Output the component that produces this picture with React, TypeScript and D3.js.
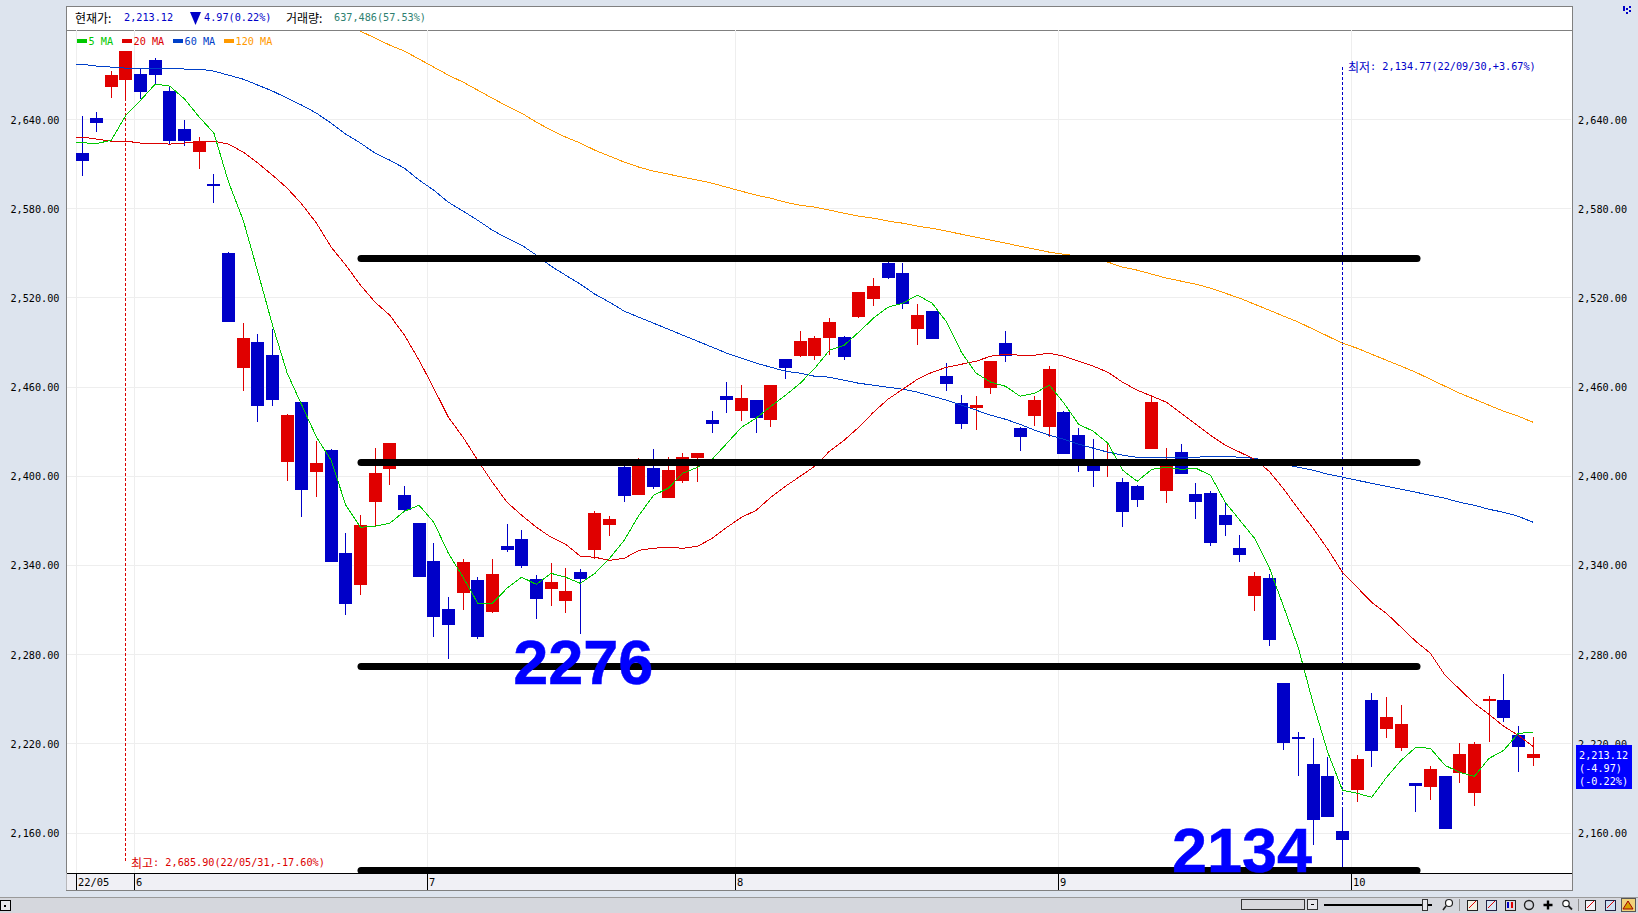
import React from "react";
import * as d3 from "d3";

const opens = [
  2617.5, 2641.0, 2661.9, 2666.6, 2670.6, 2680.0, 2659.2, 2633.6, 2618.1, 2596.6,
  2550.2, 2472.8, 2490.3, 2481.5, 2409.5, 2449.9, 2402.8, 2417.6, 2348.2, 2326.7,
  2382.6, 2404.8, 2387.3, 2368.4, 2342.9, 2310.6, 2321.3, 2330.1, 2308.5, 2353.0,
  2357.7, 2330.7, 2324.0, 2315.9, 2335.5, 2350.3, 2367.1, 2406.1, 2387.3, 2405.4,
  2385.3, 2396.7, 2412.2, 2437.8, 2453.9, 2443.8, 2451.2, 2437.8, 2478.8, 2480.8,
  2480.8, 2492.9, 2493.6, 2507.1, 2519.2, 2543.4, 2536.7, 2499.0, 2511.1, 2467.4,
  2449.2, 2445.8, 2459.3, 2489.6, 2432.4, 2440.5, 2433.0, 2443.1, 2427.7, 2406.8,
  2406.8, 2396.0, 2393.3, 2418.2, 2390.0, 2416.2, 2388.0, 2388.6, 2373.8, 2351.6,
  2319.3, 2331.4, 2260.7, 2224.4, 2206.2, 2198.2, 2161.1, 2188.7, 2249.3, 2229.8,
  2217.0, 2193.4, 2190.8, 2198.2, 2200.2, 2186.7, 2248.6, 2249.3, 2225.8, 2210.3,
];
const highs = [
  2642.4, 2645.1, 2672.6, 2685.9, 2674.7, 2681.4, 2662.5, 2639.7, 2628.2, 2603.3,
  2550.8, 2503.0, 2495.6, 2499.0, 2441.8, 2449.9, 2423.6, 2418.2, 2361.7, 2373.8,
  2418.9, 2422.3, 2393.3, 2368.4, 2355.0, 2318.6, 2344.2, 2332.1, 2344.2, 2367.8,
  2363.7, 2333.4, 2341.5, 2338.1, 2337.5, 2376.5, 2373.1, 2406.8, 2412.2, 2418.2,
  2412.9, 2415.5, 2415.5, 2443.8, 2463.3, 2461.3, 2451.2, 2461.3, 2478.8, 2497.7,
  2494.3, 2506.4, 2494.3, 2523.9, 2533.3, 2544.1, 2543.4, 2515.8, 2511.1, 2476.1,
  2454.6, 2453.9, 2477.5, 2497.7, 2433.0, 2453.9, 2474.1, 2443.8, 2432.4, 2425.0,
  2423.0, 2398.7, 2394.0, 2453.9, 2418.9, 2421.6, 2395.4, 2390.0, 2382.6, 2360.4,
  2335.5, 2334.1, 2260.7, 2227.8, 2223.7, 2210.9, 2177.3, 2212.3, 2254.0, 2251.3,
  2245.9, 2193.4, 2204.9, 2198.2, 2220.4, 2221.0, 2252.0, 2266.8, 2231.8, 2224.4,
];
const lows = [
  2602.2, 2631.6, 2654.5, 2654.5, 2653.8, 2663.9, 2623.5, 2622.2, 2606.7, 2583.8,
  2503.7, 2457.3, 2436.4, 2447.2, 2396.7, 2372.5, 2385.9, 2342.2, 2306.5, 2320.0,
  2366.4, 2394.0, 2375.8, 2332.1, 2291.7, 2276.9, 2309.9, 2290.4, 2307.9, 2348.9,
  2338.1, 2303.8, 2312.6, 2307.9, 2293.7, 2344.2, 2359.7, 2382.6, 2387.3, 2391.3,
  2385.3, 2395.4, 2396.0, 2429.0, 2442.5, 2437.1, 2429.0, 2433.0, 2465.4, 2480.2,
  2478.1, 2481.5, 2478.1, 2506.4, 2514.5, 2532.7, 2512.5, 2488.2, 2492.3, 2457.3,
  2431.7, 2431.0, 2455.3, 2476.8, 2416.9, 2433.7, 2426.3, 2414.9, 2402.8, 2392.7,
  2399.4, 2365.7, 2379.2, 2418.2, 2381.9, 2401.4, 2371.1, 2353.0, 2359.7, 2342.2,
  2309.2, 2285.7, 2215.7, 2198.2, 2151.7, 2170.6, 2134.77, 2180.7, 2204.2, 2223.7,
  2215.0, 2173.9, 2182.0, 2162.5, 2193.4, 2178.0, 2221.0, 2234.5, 2200.8, 2204.9,
];
const closes = [
  2612.3, 2637.6, 2670.0, 2685.9, 2658.5, 2670.0, 2625.5, 2625.5, 2625.3, 2595.5,
  2503.7, 2492.9, 2447.2, 2451.2, 2441.1, 2390.6, 2408.8, 2342.2, 2313.9, 2367.1,
  2402.1, 2422.3, 2377.2, 2332.1, 2305.2, 2299.8, 2342.2, 2291.7, 2334.1, 2350.3,
  2339.5, 2317.3, 2328.7, 2322.7, 2330.7, 2375.2, 2371.1, 2386.6, 2409.5, 2392.7,
  2404.1, 2412.9, 2415.5, 2435.1, 2451.2, 2452.6, 2439.1, 2461.3, 2472.8, 2490.9,
  2492.9, 2503.7, 2480.2, 2523.9, 2527.9, 2533.3, 2515.8, 2508.4, 2492.3, 2462.0,
  2435.1, 2447.9, 2477.5, 2480.8, 2426.3, 2451.2, 2472.1, 2414.9, 2407.5, 2403.4,
  2410.8, 2375.8, 2383.9, 2449.9, 2406.8, 2401.4, 2382.6, 2355.0, 2367.1, 2346.9,
  2332.8, 2289.7, 2220.4, 2223.1, 2168.5, 2170.6, 2155.1, 2209.6, 2215.0, 2237.9,
  2233.2, 2191.4, 2202.9, 2162.5, 2213.0, 2219.7, 2250.0, 2237.2, 2217.7, 2213.12,
];

const ma5 = [
  2624.5, 2623.8, 2626.2, 2643.0, 2653.1, 2663.9, 2662.5, 2653.8, 2641.7, 2630.9,
  2597.9, 2572.3, 2537.3, 2501.7, 2469.4, 2447.8, 2426.3, 2410.8, 2380.5, 2365.7,
  2366.4, 2368.4, 2376.5, 2380.5, 2369.1, 2348.2, 2332.1, 2314.6, 2314.6, 2324.7,
  2332.1, 2327.3, 2334.7, 2332.1, 2328.0, 2334.7, 2344.8, 2357.0, 2373.8, 2387.2,
  2392.0, 2402.1, 2406.1, 2411.5, 2422.2, 2433.0, 2439.1, 2447.1, 2454.5, 2462.6,
  2472.7, 2484.8, 2488.2, 2497.0, 2506.4, 2513.8, 2516.5, 2521.9, 2516.5, 2503.7,
  2483.5, 2469.4, 2463.3, 2460.6, 2453.9, 2455.9, 2461.3, 2449.2, 2435.0, 2430.3,
  2422.2, 2404.1, 2396.7, 2404.7, 2406.1, 2404.7, 2405.4, 2400.7, 2382.5, 2370.4,
  2358.3, 2338.8, 2311.9, 2284.3, 2247.2, 2214.3, 2188.7, 2186.7, 2184.0, 2197.4,
  2208.9, 2217.6, 2217.0, 2205.5, 2200.8, 2198.1, 2210.2, 2215.6, 2227.1, 2227.7,
];
const ma20 = [
  2628.2, 2626.9, 2625.5, 2625.5, 2624.2, 2624.2, 2623.5, 2624.2, 2625.5, 2625.5,
  2623.5, 2618.1, 2610.7, 2602.6, 2593.9, 2583.1, 2570.3, 2554.2, 2542.0, 2528.6,
  2517.1, 2508.4, 2494.9, 2478.1, 2459.3, 2439.7, 2426.3, 2410.8, 2396.0, 2382.5,
  2373.8, 2365.7, 2359.0, 2354.3, 2346.2, 2345.5, 2343.5, 2344.8, 2350.2, 2351.6,
  2352.2, 2351.6, 2352.9, 2358.3, 2365.7, 2372.4, 2377.1, 2385.9, 2393.3, 2400.0,
  2406.8, 2416.9, 2424.3, 2433.0, 2443.1, 2451.9, 2458.6, 2465.3, 2470.0, 2473.4,
  2475.4, 2477.4, 2480.8, 2482.1, 2481.5, 2481.5, 2482.8, 2480.8, 2477.4, 2474.1,
  2470.0, 2463.3, 2457.9, 2453.9, 2449.8, 2442.4, 2435.0, 2427.6, 2420.9, 2416.2,
  2411.5, 2403.4, 2391.3, 2377.8, 2365.0, 2350.9, 2335.4, 2325.3, 2315.2, 2307.8,
  2298.4, 2289.0, 2280.9, 2266.1, 2256.7, 2247.2, 2239.8, 2231.8, 2225.7, 2218.3,
];
const ma60 = [
  2677.3, 2676.0, 2675.3, 2674.6, 2674.6, 2674.6, 2674.6, 2674.0, 2674.0, 2672.6,
  2669.9, 2667.2, 2663.2, 2659.2, 2654.4, 2649.7, 2644.3, 2637.6, 2630.2, 2624.2,
  2617.4, 2612.7, 2607.3, 2599.3, 2592.5, 2584.4, 2578.4, 2572.3, 2565.6, 2560.2,
  2555.5, 2548.8, 2541.4, 2535.3, 2529.3, 2522.5, 2517.1, 2511.1, 2507.0, 2503.0,
  2499.0, 2494.9, 2490.9, 2486.9, 2482.8, 2479.5, 2476.1, 2473.4, 2470.7, 2469.4,
  2467.3, 2466.7, 2464.6, 2462.6, 2461.3, 2459.9, 2458.6, 2456.6, 2453.9, 2451.2,
  2447.8, 2444.5, 2441.1, 2438.4, 2435.0, 2431.0, 2427.6, 2424.9, 2421.6, 2418.9,
  2416.2, 2414.2, 2412.8, 2412.8, 2412.8, 2412.8, 2412.8, 2413.5, 2413.5, 2412.8,
  2412.1, 2410.1, 2408.1, 2406.1, 2404.1, 2401.4, 2399.4, 2397.3, 2395.3, 2393.3,
  2391.3, 2389.3, 2387.2, 2385.2, 2382.5, 2380.5, 2377.8, 2375.8, 2373.1, 2369.1,
];
// The 120-day line enters the plot at candle 19
const ma120Start = 19;
const ma120 = [
  2699.5, 2694.8, 2690.1, 2686.1, 2680.7, 2675.3, 2669.9, 2665.2, 2659.8, 2654.4,
  2649.1, 2644.3, 2638.3, 2632.9, 2628.2, 2624.2, 2619.4, 2615.4, 2611.4, 2608.0,
  2605.3, 2603.3, 2601.3, 2599.3, 2597.2, 2594.5, 2591.8, 2589.2, 2587.1, 2584.4,
  2582.4, 2581.1, 2579.1, 2577.0, 2575.0, 2573.7, 2571.7, 2570.3, 2568.3, 2566.9,
  2564.9, 2562.9, 2560.9, 2558.9, 2556.9, 2554.8, 2552.8, 2550.8, 2549.4, 2548.1,
  2546.1, 2544.1, 2540.7, 2538.7, 2536.0, 2533.3, 2531.3, 2529.3, 2526.6, 2523.2,
  2519.8, 2515.8, 2511.8, 2507.7, 2503.7, 2499.0, 2494.3, 2489.5, 2486.2, 2482.1,
  2478.1, 2474.1, 2470.0, 2465.3, 2460.6, 2455.9, 2451.9, 2447.8, 2443.8, 2440.4, 2436.4,
];

const yTicks = [2640, 2580, 2520, 2460, 2400, 2340, 2280, 2220, 2160];
const monthLabels = ["22/05", "6", "7", "8", "9", "10"];
const monthStartIdx = [-0.36, 3.6, 23.6, 44.6, 66.64, 86.63];
const levelLines = [2546.6, 2409.3, 2272.0, 2134.8];
const levelLabels = [
  { text: "2276", idx: 29.42, value: 2260.1 },
  { text: "2134", idx: 74.37, value: 2133.6 },
];
const maLegend = ["5 MA", "20 MA", "60 MA", "120 MA"];
const badgeLines = ["2,213.12", "(-4.97)", "(-0.22%)"];

const RED = "#e00000";
const BLUE = "#0000c8";
const GREEN = "#00c800";
const MA_RED = "#dc0000";
const MA_BLUE = "#0040c8";
const ORANGE = "#ff9900";
const PANEL = "#dde4ee";
const MONO = "'DejaVu Sans Mono', monospace";
const KR = "'Noto Sans CJK KR', sans-serif";

const L = 66.5;
const R = 1572.5;
const TOP = 30;
const AX = 873;
const BOT = 890;
const LEAD_IDX = -0.42;

const x = d3.scaleLinear().domain([0, 99]).range([82, 1533]);
const y = d3.scaleLinear().domain([2160, 2640]).range([833, 119.6]);
const snap = (v: number) => Math.floor(v) + 0.5;

// The three full-length averages start flat at the left edge of the first candle
const lineGen = d3
  .line<number>()
  .x((_, i) => (i === 0 ? x(LEAD_IDX) : x(i - 1)))
  .y((d) => y(d));
const withLead = (s: number[]) => [s[0], ...s];
const lineGen120 = d3
  .line<number>()
  .x((_, i) => x(i + ma120Start))
  .y((d) => y(d));

const MonoText = ({ x: tx, y: ty, fill = "#000", size = 10.2, anchor = "start", children }: any) => (
  <text x={tx} y={ty} fill={fill} fontSize={size} fontFamily={MONO} textAnchor={anchor} dominantBaseline="central">
    {children}
  </text>
);

const legendColors = [GREEN, MA_RED, MA_BLUE, ORANGE];
const legendX = [77, 122, 173, 224];

const ToolIcon = ({ cx, stroke, fill }: { cx: number; stroke: string; fill: string }) => (
  <g>
    <rect x={cx - 5} y={900} width={10} height={10} fill={fill} stroke={stroke} shapeRendering="crispEdges" />
    <line x1={cx - 3} y1={908} x2={cx + 4} y2={901} stroke={RED} />
  </g>
);

export default function App() {
  return (
    <svg
      width={1638}
      height={913}
      viewBox="0 0 1638 913"
      style={{ position: "absolute", left: 0, top: 0, display: "block" }}
    >
      <defs>
        <clipPath id="plot">
          <rect x={L} y={TOP} width={R - L} height={AX - TOP} />
        </clipPath>
      </defs>
      <rect x={0} y={0} width={1638} height={913} fill={PANEL} />
      <rect x={L} y={6.5} width={R - L} height={BOT - 6.5} fill="#fff" stroke="#808080" strokeWidth={1} shapeRendering="crispEdges" />
      <line x1={L} x2={R} y1={30.5} y2={30.5} stroke="#808080" shapeRendering="crispEdges" />

      {/* grid */}
      {yTicks.map((t) => (
        <line key={t} x1={L} x2={R - 2} y1={snap(y(t))} y2={snap(y(t))} stroke="#eeeeee" shapeRendering="crispEdges" />
      ))}
      {monthStartIdx.map((m) => (
        <line key={m} x1={snap(x(m))} x2={snap(x(m))} y1={TOP} y2={AX} stroke="#eeeeee" shapeRendering="crispEdges" />
      ))}

      {/* tick labels */}
      {yTicks.map((t) => (
        <React.Fragment key={t}>
          <MonoText x={59.5} y={y(t) + 0.5} anchor="end">{d3.format(",.2f")(t)}</MonoText>
          <MonoText x={1578} y={y(t) + 0.5}>{d3.format(",.2f")(t)}</MonoText>
        </React.Fragment>
      ))}

      <g clipPath="url(#plot)">
        {/* peak and trough markers */}
        <line x1={snap(x(3))} x2={snap(x(3))} y1={y(2654.5)} y2={863} stroke={MA_RED} strokeDasharray="3 2" shapeRendering="crispEdges" />
        <line x1={snap(x(86))} x2={snap(x(86))} y1={67} y2={y(2177.3)} stroke={BLUE} strokeDasharray="3 2" shapeRendering="crispEdges" />

        {/* candles */}
        {opens.map((o, i) => {
          const c = closes[i];
          const up = c > o;
          const col = up ? RED : BLUE;
          const cx = snap(x(i));
          const top = Math.round(y(Math.max(o, c)));
          const bottom = Math.round(y(Math.min(o, c)));
          return (
            <g key={i} shapeRendering="crispEdges">
              <line x1={cx} x2={cx} y1={y(highs[i])} y2={y(lows[i])} stroke={col} />
              <rect x={cx - 6.5} y={top} width={13} height={Math.max(bottom - top, 1)} fill={col} />
            </g>
          );
        })}

        {/* moving averages */}
        <path d={lineGen120(ma120) || ""} fill="none" stroke={ORANGE} strokeWidth={1} shapeRendering="crispEdges" />
        <path d={lineGen(withLead(ma60)) || ""} fill="none" stroke={MA_BLUE} strokeWidth={1} shapeRendering="crispEdges" />
        <path d={lineGen(withLead(ma20)) || ""} fill="none" stroke={MA_RED} strokeWidth={1} shapeRendering="crispEdges" />
        <path d={lineGen(withLead(ma5)) || ""} fill="none" stroke={GREEN} strokeWidth={1} shapeRendering="crispEdges" />

        {/* hand-drawn levels */}
        {levelLines.map((v) => (
          <line key={v} x1={361} x2={1417} y1={y(v)} y2={y(v)} stroke="#000" strokeWidth={7} strokeLinecap="round" />
        ))}
        {levelLabels.map((l) => (
          <text
            key={l.text}
            x={x(l.idx)}
            y={y(l.value)}
            fill="#0000ff"
            fontFamily="'Liberation Sans', Arial, sans-serif"
            fontWeight={700}
            fontSize={63}
            stroke="#0000ff"
            strokeWidth={0.5}
          >
            {l.text}
          </text>
        ))}

        {/* legend */}
        {maLegend.map((t, i) => (
          <g key={t}>
            <rect x={legendX[i]} y={39} width={10} height={4} fill={legendColors[i]} />
            <MonoText x={legendX[i] + 11.5} y={41.5} fill={legendColors[i]}>{t}</MonoText>
          </g>
        ))}

        {/* annotations */}
        <text x={131} y={862} fill={MA_RED} dominantBaseline="central" fontSize={10.2} fontFamily={MONO}>
          <tspan fontFamily={KR} fontSize={12}>최고</tspan>: 2,685.90(22/05/31,-17.60%)
        </text>
        <text x={1348} y={66} fill={BLUE} dominantBaseline="central" fontSize={10.2} fontFamily={MONO}>
          <tspan fontFamily={KR} fontSize={12}>최저</tspan>: 2,134.77(22/09/30,+3.67%)
        </text>
      </g>

      {/* header */}
      <text x={75} y={17.5} dominantBaseline="central" fontSize={12} fontFamily={KR} fill="#000">현재가:</text>
      <MonoText x={124} y={17.5} fill={BLUE}>2,213.12</MonoText>
      <path d={d3.line()([[190, 12], [201, 12], [195.5, 25]]) + "Z"} fill={BLUE} />
      <MonoText x={204} y={17.5} fill={BLUE}>4.97(0.22%)</MonoText>
      <text x={286} y={17.5} dominantBaseline="central" fontSize={12} fontFamily={KR} fill="#000">거래량:</text>
      <MonoText x={334} y={17.5} fill="#2f7f70">637,486(57.53%)</MonoText>

      {/* date axis */}
      <rect x={L} y={AX} width={R - L} height={BOT - AX} fill="#f0f0f5" />
      <line x1={L} x2={R} y1={AX + 0.5} y2={AX + 0.5} stroke="#000" shapeRendering="crispEdges" />
      <line x1={L} x2={R} y1={BOT + 0.5} y2={BOT + 0.5} stroke="#808080" shapeRendering="crispEdges" />
      <line x1={R} x2={R} y1={AX} y2={BOT} stroke="#808080" shapeRendering="crispEdges" />
      {monthLabels.map((t, i) => (
        <g key={t}>
          <line x1={snap(x(monthStartIdx[i]))} x2={snap(x(monthStartIdx[i]))} y1={AX} y2={BOT} stroke="#000" shapeRendering="crispEdges" />
          <MonoText x={snap(x(monthStartIdx[i])) + 1.5} y={882} size={10.4}>{t}</MonoText>
        </g>
      ))}

      {/* current price badge */}
      <rect x={1576} y={745} width={56} height={44} fill="#0000ff" />
      {badgeLines.map((t, i) => (
        <MonoText key={t} x={1579} y={755.5 + i * 13} fill="#fff">{t}</MonoText>
      ))}

      {/* status bar */}
      <rect x={0} y={897} width={1638} height={16} fill="#d5d7dd" />
      <line x1={0} x2={1638} y1={897.5} y2={897.5} stroke="#9a9a9a" shapeRendering="crispEdges" />
      <rect x={0.5} y={900.5} width={10} height={10} fill="#e8e8ec" stroke="#000" shapeRendering="crispEdges" />
      <rect x={4} y={905} width={2} height={2} fill="#000" />
      <rect x={1241.5} y={899.5} width={63} height={10} fill="#d8d8dc" stroke="#333" shapeRendering="crispEdges" />
      <rect x={1307.5} y={899.5} width={10} height={10} fill="#e8e8ec" stroke="#333" shapeRendering="crispEdges" />
      <rect x={1311} y={904} width={3} height={1} fill="#000" />
      <rect x={1324} y={904} width={108} height={2} fill="#000" />
      <rect x={1422.5} y={899.5} width={5} height={11} fill="#e8e8ec" stroke="#333" shapeRendering="crispEdges" />
      <circle cx={1449} cy={903} r={3.5} fill="#fff" stroke="#222" strokeWidth={1.2} />
      <line x1={1446} y1={906} x2={1443} y2={910} stroke="#222" strokeWidth={1.5} />
      {[1459, 1578].map((v) => (
        <line key={v} x1={v + 0.5} x2={v + 0.5} y1={899} y2={911} stroke="#8f8f8f" shapeRendering="crispEdges" />
      ))}
      <ToolIcon cx={1472} stroke="#222" fill="#f4f2e4" />
      <ToolIcon cx={1491} stroke="#224" fill="#d9e6f4" />
      <g>
        <rect x={1505} y={900} width={10} height={10} fill="#d9d9e2" stroke="#222" shapeRendering="crispEdges" />
        <rect x={1507} y={902} width={2} height={6} fill={BLUE} />
        <rect x={1511} y={902} width={2} height={6} fill={RED} />
      </g>
      <circle cx={1529} cy={905} r={4.5} fill="none" stroke="#222" strokeWidth={1.4} />
      <path d="M1543.5 905H1552.5M1548 900.5V909.5" stroke="#000" strokeWidth={2.4} fill="none" />
      <circle cx={1566} cy={903.5} r={3.2} fill="#fff" stroke="#222" strokeWidth={1.2} />
      <line x1={1568.5} y1={906} x2={1572} y2={909.5} stroke="#222" strokeWidth={1.8} />
      <ToolIcon cx={1590} stroke="#222" fill="#f2f2f6" />
      <ToolIcon cx={1610} stroke="#224" fill="#cfe0f2" />
      <rect x={1621.5} y={898.5} width={14} height={13} fill="#f0d27a" stroke="#555" shapeRendering="crispEdges" />
      <path d="M1623 909L1628 901L1633 909Z" fill="#d8a000" stroke="#a00000" />

      {/* corner glyph */}
      <g fill={BLUE}>
        <rect x={1623} y={6} width={2} height={5} />
        <rect x={1626} y={8} width={2} height={2} />
        <rect x={1629} y={6} width={2} height={2} />
        <rect x={1629} y={10} width={2} height={2} />
        <rect x={1626} y={12} width={2} height={2} />
      </g>
    </svg>
  );
}
